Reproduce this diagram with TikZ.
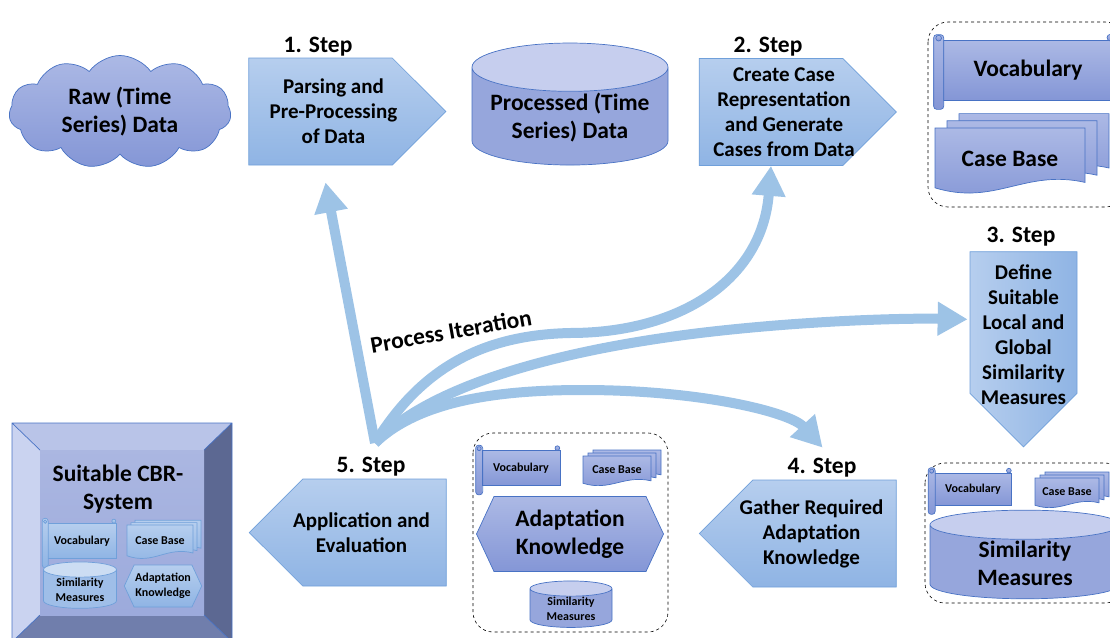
\documentclass[tikz,border=0pt]{standalone}
\usepackage{fontspec}
\setmainfont{Carlito}
\usetikzlibrary{shapes,shapes.geometric,shapes.symbols,positioning,arrows.meta,calc}
\pgfdeclarelayer{background}
\pgfsetlayers{background,main}

\definecolor{stepTop}{RGB}{182,206,238}
\definecolor{stepBot}{RGB}{143,180,228}
\definecolor{stepLine}{RGB}{112,160,218}
\definecolor{kbTop}{RGB}{172,185,229}
\definecolor{kbBot}{RGB}{132,150,214}
\definecolor{kbMid}{RGB}{150,166,220}
\definecolor{kbEnd}{RGB}{198,206,238}
\definecolor{kbLine}{RGB}{72,114,196}
\definecolor{iterBlue}{RGB}{157,195,230}
\definecolor{bevTop}{RGB}{185,196,232}
\definecolor{bevLeft}{RGB}{202,211,240}
\definecolor{bevRight}{RGB}{92,104,146}
\definecolor{bevBot}{RGB}{112,126,172}
\definecolor{bevIn}{RGB}{156,170,220}

% three stacked sheets with a wavy lower edge, text node on the front one
% #1 name, #2 x, #3 y, #4 width, #5 height, #6 offset, #7 fill style, #8 font style, #9 text
\newcommand\docstack[9]{%
  \foreach \k in {2,1,0}
    \draw[#7] (#2+\k*#6+#4,#3-\k*0.6*#6) -- (#2+\k*#6,#3-\k*0.6*#6)
      -- ++(0,0.88*#5) .. controls +(0.4*#4,0.27*#5) and +(-0.4*#4,-0.2*#5) .. ++(#4,-0.08*#5) -- cycle;
  \node[#8, align=center] (#1) at (#2+0.5*#4,#3+0.45*#5) {#9};
}

% roll on the left and curl on the top right of a scroll node
% #1 node, #2 roll width, #3 fill style
\newcommand\rollup[3]{%
  \draw[#3, rounded corners=3] ($(#1.north west)+(-#2+1,-5)$) rectangle ($(#1.south west)+(1,9)$);
  \draw[#3] ($(#1.north west)+(-#2/2+1,-1.5)$) circle[radius=#2/3.5];
  \draw[#3] ($(#1.north east)+(-3,-2)$) circle[radius=#2/3];
}

\begin{document}
\begin{tikzpicture}[x=1pt,y=-1pt,
    txtL/.style={font=\fontsize{23.5}{28}\selectfont\bfseries},
    txtM/.style={font=\fontsize{21}{25}\selectfont\bfseries},
    txtS/.style={font=\fontsize{12}{14.5}\selectfont\bfseries},
    kb/.style={top color=kbTop, bottom color=kbBot, draw=kbLine, line width=0.7pt},
    lb/.style={top color=stepTop, bottom color=stepBot, draw=stepLine, line width=0.7pt},
    stepbox/.style={signal, lb, minimum width=197, minimum height=107},
    steptxt/.style={txtM, align=center},
    stepnum/.style={txtL},
    cloudy/.style={cloud, cloud puffs=11, cloud puff arc=110, aspect=2, kb, txtL,
        align=center, minimum width=222, minimum height=113},
    drum/.style={cylinder, shape border rotate=90, aspect=0.3, cylinder uses custom fill,
        cylinder body fill=kbMid, cylinder end fill=kbEnd, draw=kbLine, line width=0.7pt,
        align=center, inner sep=1pt},
    ldrum/.style={drum, cylinder body fill=stepBot!60!stepTop, cylinder end fill=stepTop!70!white,
        draw=stepLine},
    hexa/.style={signal, signal to=east and west, signal pointer angle=130, align=center, inner sep=1pt},
    scroll/.style={rectangle, align=center, inner sep=1pt},
    dashbox/.style={draw, dashed, rounded corners=20, line width=0.6pt},
    iter/.style={draw=iterBlue, line width=10pt, -{Triangle[length=30pt,width=32pt]}}
    ]
    \useasboundingbox (0,0) rectangle (1110,637);
    \clip (0,0) rectangle (1110,637);

    % upper row
    \node[cloudy] (raw) at (120,112) {Raw (Time\\Series) Data};
    \node[stepbox, signal to=east] (s1) at (320.5,111.5) {};
    \node[steptxt] (t1) at ($(s1.center)+(13,0)$) {Parsing and\\Pre-Processing\\of Data};
    \node[drum, txtL, minimum width=196, minimum height=122] (proc) at (570,118) {Processed (Time\\Series) Data};
    \node[stepbox, signal to=east] (s2) at (771,112) {};
    \node[steptxt] (t2) at ($(s2.center)+(13,0)$) {Create Case\\Representation\\and Generate\\Cases from Data};

    \draw[dashbox] (928,22) rectangle (1125,207);
    \node[scroll, kb, txtL, minimum width=170, minimum height=60] (vocA) at (1028,70) {Vocabulary};
    \rollup{vocA}{10}{kb}
    \docstack{cbA}{935}{128}{150}{68}{12}{kb}{txtL}{Case Base}

    % right column
    \node[stepbox, signal to=south, left color=stepTop, right color=stepBot,
        minimum width=107, minimum height=145] (s3) at (1023.5,322.5) {};
    \node[steptxt] (t3) at ($(s3.center)+(0,12)$) {Define\\Suitable\\Local and\\Global\\Similarity\\Measures};

    \draw[dashbox] (925,463) rectangle (1125,603);
    \node[scroll, kb, txtS, minimum width=77, minimum height=32] (vocD) at (973,489) {Vocabulary};
    \rollup{vocD}{7}{kb}
    \docstack{cbD}{1035}{478}{64}{31}{5}{kb}{txtS}{Case Base}
    \node[drum, txtL, minimum width=190, minimum height=85] (simD) at (1025,563) {Similarity\\Measures};

    % lower row
    \node[stepbox, signal to=west] (s4) at (824.5,533.5) {};
    \node[steptxt] (t4) at ($(s4.center)+(-13,0)$) {Gather Required\\Adaptation\\Knowledge};

    \draw[dashbox] (473,433) rectangle (668,632);
    \node[scroll, kb, txtS, minimum width=78, minimum height=35] (vocC) at (521,468) {Vocabulary};
    \rollup{vocC}{7}{kb}
    \docstack{cbC}{583}{456}{68}{31}{5}{kb}{txtS}{Case Base}
    \node[hexa, kb, txtL, minimum width=187, minimum height=75] (adC) at (570,534) {Adaptation\\Knowledge};
    \node[drum, txtS, minimum width=82, minimum height=45] (simC) at (571,609) {Similarity\\Measures};

    \node[stepbox, signal to=west] (s5) at (374.5,532.5) {};
    \node[steptxt] (t5) at ($(s5.center)+(-13,0)$) {Application and\\Evaluation};

    % CBR system box
    \fill[bevTop] (12,423) -- (232,423) -- (204,450) -- (40,450) -- cycle;
    \fill[bevLeft] (12,423) -- (40,450) -- (40,615) -- (12,642) -- cycle;
    \fill[bevRight] (232,423) -- (232,642) -- (204,615) -- (204,450) -- cycle;
    \fill[bevBot] (12,642) -- (232,642) -- (204,615) -- (40,615) -- cycle;
    \shade[top color=bevIn!85!white, bottom color=bevIn] (40,450) rectangle (204,615);
    \draw[kbLine, line width=0.7pt] (12,423) rectangle (232,642)
        (12,423) -- (40,450) (232,423) -- (204,450) (12,642) -- (40,615) (232,642) -- (204,615);
    \node[txtL, align=center] (cbr) at (118,489) {Suitable CBR-\\System};
    \node[scroll, lb, txtS, minimum width=69, minimum height=35] (vocB) at (82,541) {Vocabulary};
    \rollup{vocB}{6}{lb}
    \docstack{cbB}{127}{525}{66}{35}{4}{lb}{txtS}{Case Base}
    \node[ldrum, txtS, minimum width=73, minimum height=42] (simB) at (80,590) {Similarity\\Measures};
    \node[hexa, lb, txtS, minimum width=73, minimum height=42] (adB) at (163,586) {Adaptation\\Knowledge};

    % step numbers
    \node[stepnum] (n1) at (318,47) {1. Step};
    \node[stepnum] (n2) at (768,47) {2. Step};
    \node[stepnum] (n3) at (1021,237) {3. Step};
    \node[stepnum] (n4) at (822,468) {4. Step};
    \node[stepnum] (n5) at (371,467) {5. Step};

    % iteration arrows
    \coordinate (hub) at (375,443);
    \draw[iter] (hub) -- ($(s1.south)+(5,17)$);
    \draw[iter] (hub) .. controls (420,370) and (480,335) .. (570,333)
        .. controls (680,333) and (762,280) .. (s2.south);
    \draw[iter] (hub) .. controls (430,385) and (560,350) .. (700,333)
        .. controls (800,321) and (900,318) .. ($(s3.north west)+(-2,68)$);
    \draw[iter] (hub) .. controls (420,400) and (500,390) .. (583,390)
        .. controls (700,390) and (790,412) .. ($(s4.north east)+(-74,-32)$);
    \node[txtL, rotate=10] (itl) at (451,331) {Process Iteration};
\end{tikzpicture}
\end{document}
